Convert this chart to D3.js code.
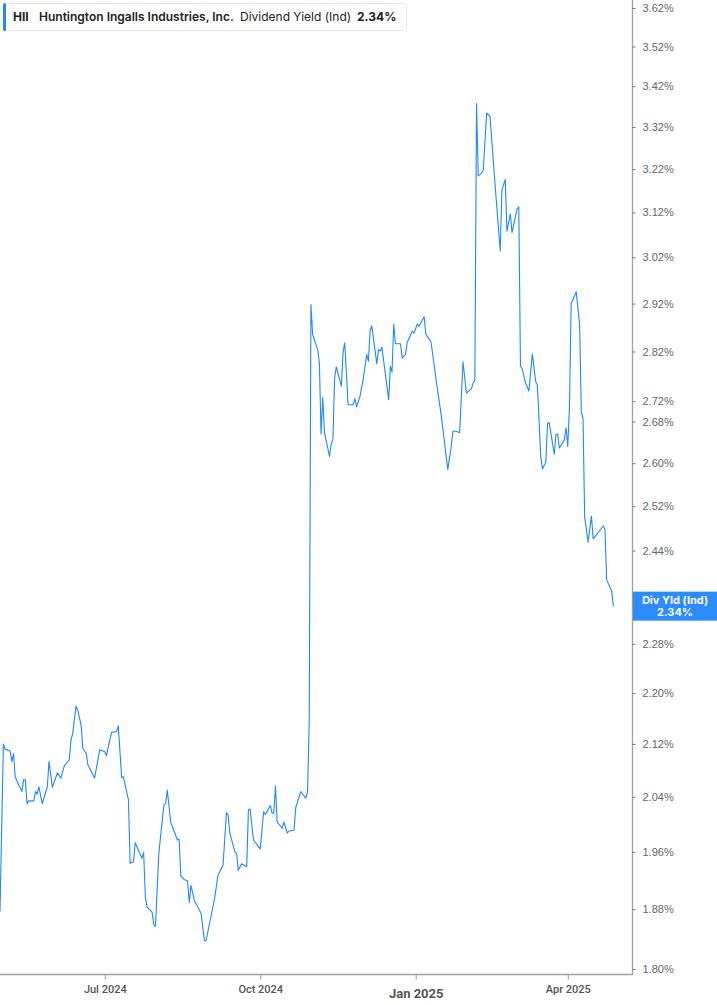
<!DOCTYPE html>
<html><head><meta charset="utf-8">
<script src="https://cdn.jsdelivr.net/npm/d3@7/dist/d3.min.js"></script>
<style>
html,body{margin:0;padding:0;background:#fff;}
svg{display:block;}
</style></head>
<body>
<svg id="c" width="717" height="1005"></svg>
<script>
const dates = [
"2024-04-30","2024-05-02","2024-05-03","2024-05-06","2024-05-07","2024-05-08","2024-05-09","2024-05-11","2024-05-13","2024-05-14",
"2024-05-15","2024-05-16","2024-05-17","2024-05-20","2024-05-21","2024-05-22","2024-05-23","2024-05-25","2024-05-28","2024-05-29",
"2024-05-31","2024-06-03","2024-06-05","2024-06-07","2024-06-10","2024-06-11","2024-06-12","2024-06-14","2024-06-15","2024-06-17",
"2024-06-18","2024-06-20","2024-06-21","2024-06-25","2024-06-28","2024-07-01","2024-07-02","2024-07-05","2024-07-08","2024-07-09",
"2024-07-11","2024-07-12","2024-07-15","2024-07-16","2024-07-18","2024-07-19","2024-07-23","2024-07-24","2024-07-25","2024-07-26",
"2024-07-29","2024-07-30","2024-07-31","2024-08-02","2024-08-03","2024-08-05","2024-08-06","2024-08-07","2024-08-09","2024-08-13",
"2024-08-14","2024-08-15","2024-08-17","2024-08-19","2024-08-20","2024-08-21","2024-08-23","2024-08-26","2024-08-27","2024-08-29",
"2024-08-30","2024-09-04","2024-09-06","2024-09-09","2024-09-11","2024-09-12","2024-09-13","2024-09-16","2024-09-17","2024-09-18",
"2024-09-20","2024-09-23","2024-09-24","2024-09-25","2024-09-27","2024-10-01","2024-10-03","2024-10-04","2024-10-07","2024-10-08",
"2024-10-09","2024-10-10","2024-10-11","2024-10-14","2024-10-15","2024-10-17","2024-10-18","2024-10-21","2024-10-22","2024-10-25",
"2024-10-28","2024-10-29","2024-10-30","2024-10-31","2024-11-01","2024-11-03","2024-11-04","2024-11-05","2024-11-06","2024-11-07",
"2024-11-08","2024-11-11","2024-11-12","2024-11-13","2024-11-14","2024-11-15","2024-11-18","2024-11-19","2024-11-20","2024-11-22",
"2024-11-25","2024-11-26","2024-11-27","2024-11-29","2024-12-01","2024-12-03","2024-12-04","2024-12-05","2024-12-06","2024-12-09",
"2024-12-10","2024-12-11","2024-12-12","2024-12-16","2024-12-17","2024-12-18","2024-12-19","2024-12-20","2024-12-23","2024-12-24",
"2024-12-26","2024-12-27","2024-12-30","2024-12-31","2025-01-02","2025-01-03","2025-01-06","2025-01-07","2025-01-08","2025-01-10",
"2025-01-14","2025-01-16","2025-01-20","2025-01-22","2025-01-23","2025-01-25","2025-01-27","2025-01-29","2025-01-31","2025-02-03",
"2025-02-04","2025-02-05","2025-02-06","2025-02-07","2025-02-09","2025-02-10","2025-02-12","2025-02-14","2025-02-17","2025-02-20",
"2025-02-21","2025-02-23","2025-02-24","2025-02-26","2025-02-27","2025-03-02","2025-03-03","2025-03-04","2025-03-05","2025-03-07",
"2025-03-09","2025-03-11","2025-03-13","2025-03-14","2025-03-16","2025-03-17","2025-03-19","2025-03-20","2025-03-21","2025-03-24",
"2025-03-25","2025-03-26","2025-03-27","2025-03-30","2025-03-31","2025-04-01","2025-04-02","2025-04-03","2025-04-06","2025-04-08",
"2025-04-09","2025-04-10","2025-04-11","2025-04-13","2025-04-15","2025-04-16","2025-04-22","2025-04-23","2025-04-24","2025-04-27",
"2025-04-28"
];
const yields = [
1.877,2.120,2.112,2.109,2.093,2.105,2.070,2.058,2.048,2.066,
2.065,2.030,2.034,2.034,2.048,2.044,2.055,2.030,2.055,2.093,
2.054,2.076,2.068,2.086,2.096,2.126,2.136,2.179,2.173,2.149,
2.113,2.106,2.088,2.068,2.111,2.108,2.102,2.138,2.139,2.148,
2.069,2.070,2.036,1.944,1.946,1.973,1.951,1.959,1.897,1.883,
1.876,1.859,1.857,1.958,1.982,2.028,2.030,2.050,2.003,1.977,
1.978,1.926,1.921,1.919,1.889,1.913,1.892,1.879,1.874,1.837,
1.838,1.895,1.927,1.941,2.017,2.013,1.987,1.960,1.958,1.934,
1.943,1.939,2.021,2.022,1.977,1.964,2.018,2.014,2.027,2.016,
2.016,2.056,2.003,1.994,2.003,1.987,1.990,1.991,2.024,2.048,
2.038,2.047,2.158,2.918,2.855,2.834,2.824,2.797,2.656,2.727,
2.659,2.613,2.637,2.645,2.765,2.789,2.750,2.817,2.838,2.713,
2.713,2.725,2.709,2.729,2.765,2.814,2.800,2.862,2.873,2.795,
2.824,2.821,2.829,2.723,2.790,2.778,2.877,2.836,2.836,2.807,
2.814,2.839,2.862,2.858,2.877,2.872,2.892,2.856,2.850,2.841,
2.740,2.695,2.588,2.631,2.661,2.661,2.658,2.799,2.736,2.745,
2.756,2.762,3.377,3.204,3.210,3.218,3.354,3.345,3.183,3.034,
3.171,3.196,3.078,3.117,3.075,3.128,3.133,2.790,2.785,2.756,
2.740,2.815,2.759,2.752,2.612,2.589,2.602,2.676,2.678,2.617,
2.655,2.656,2.629,2.645,2.668,2.632,2.709,2.920,2.945,2.876,
2.699,2.687,2.500,2.455,2.502,2.461,2.484,2.478,2.389,2.369,
2.343
];
// 2.36% is hidden behind the last-value label in the reference; only its tick mark is drawn
const yTicks = [3.62,3.52,3.42,3.32,3.22,3.12,3.02,2.92,2.82,2.72,2.68,2.60,2.52,2.44,2.36,2.28,2.20,2.12,2.04,1.96,1.88,1.80];
const yHiddenTickLabels = [2.36];
const xTicks = ["2024-07-01","2024-10-01","2025-01-01","2025-04-01"];
const xTickLabels = ["Jul 2024","Oct 2024","Jan 2025","Apr 2025"];
const ticker = "HII";
const company = "Huntington Ingalls Industries, Inc.";
const metric = "Dividend Yield (Ind)";
const lastLabel = "Div Yld (Ind)";
const lastValue = 2.34;
const xDomain = ["2024-04-30","2025-05-09"];
const yDomain = [1.80, 3.62];

const parse = d3.utcParse("%Y-%m-%d");
const data = dates.map((d,i)=>({date:parse(d), v:yields[i]}));
const svg = d3.select("#c");
const plotR = 632, plotB = 974;
const x = d3.scaleUtc().domain(xDomain.map(parse)).range([0, plotR]);
const y = d3.scaleLog().domain(yDomain).range([969, 8]);

// line
svg.append("path").datum(data)
  .attr("fill","none").attr("stroke","#1e88ff").attr("stroke-width",1.1)
  .attr("stroke-linejoin","round")
  .attr("d", d3.line().x(d=>x(d.date)).y(d=>y(d.v)));

// right axis
const ya = svg.append("g").attr("transform",`translate(${plotR+0.5},0)`)
  .call(d3.axisRight(y).tickValues(yTicks).tickSize(3).tickPadding(7)
    .tickFormat(d=>yHiddenTickLabels.includes(d) ? "" : d.toFixed(2)+"%"));
ya.select(".domain").attr("d",`M0,0V${plotB}`).attr("stroke","#a0a0a0").attr("stroke-width",1.3);
ya.selectAll(".tick line").attr("stroke","#777");
ya.selectAll(".tick text").attr("fill","#666").attr("font-family","'Liberation Sans',Arial,sans-serif").attr("font-size",11);

// bottom axis
const xa = svg.append("g").attr("transform",`translate(0,${plotB+0.5})`)
  .call(d3.axisBottom(x).tickValues(xTicks.map(parse)).tickSize(5).tickPadding(6)
    .tickFormat((d,i)=>xTickLabels[i]));
xa.select(".domain").attr("d",`M0,0H${plotR+1}`).attr("stroke","#a0a0a0").attr("stroke-width",1.3);
xa.selectAll(".tick line").attr("stroke","#999");
xa.selectAll(".tick text").attr("fill","#555").attr("font-family","Roboto,'Liberation Sans',sans-serif")
  .attr("font-size",11).attr("font-weight",500)
  .filter((d,i)=>i===2).attr("font-size",13).attr("font-weight",700).attr("dy","0.95em");

// last value label
const ly = y(lastValue) - 2;
const lab = svg.append("g");
lab.append("rect").attr("x",plotR+1).attr("y",ly-14.5).attr("width",717-plotR-1).attr("height",29).attr("fill","#2a8cff");
lab.append("text").attr("x",675).attr("y",ly-2).attr("text-anchor","middle").attr("fill","#fff")
  .attr("font-family","Inter,'Liberation Sans',sans-serif").attr("font-size",11).attr("font-weight",700).text(lastLabel);
lab.append("text").attr("x",675).attr("y",ly+10).attr("text-anchor","middle").attr("fill","#fff")
  .attr("font-family","Inter,'Liberation Sans',sans-serif").attr("font-size",11).attr("font-weight",700).text(lastValue.toFixed(2)+"%");

// legend
const lg = svg.append("g");
lg.append("rect").attr("x",3.5).attr("y",3.5).attr("width",403).attr("height",27).attr("rx",3)
  .attr("fill","#fff").attr("stroke","#e6e6e6");
lg.append("rect").attr("x",3).attr("y",3).attr("width",3).attr("height",28).attr("rx",1.5).attr("fill","#1e88ff");
const lt = lg.append("text").attr("y",21).attr("font-family","Inter,'Liberation Sans',sans-serif").attr("font-size",12).attr("fill","#222");
lt.append("tspan").attr("x",13).attr("font-weight",700).text(ticker);
lt.append("tspan").attr("x",39).attr("font-weight",600).text(company);
lt.append("tspan").attr("x",240).attr("font-weight",400).text(metric);
lt.append("tspan").attr("x",357).attr("font-weight",700).text(lastValue.toFixed(2)+"%");
</script>
</body></html>
